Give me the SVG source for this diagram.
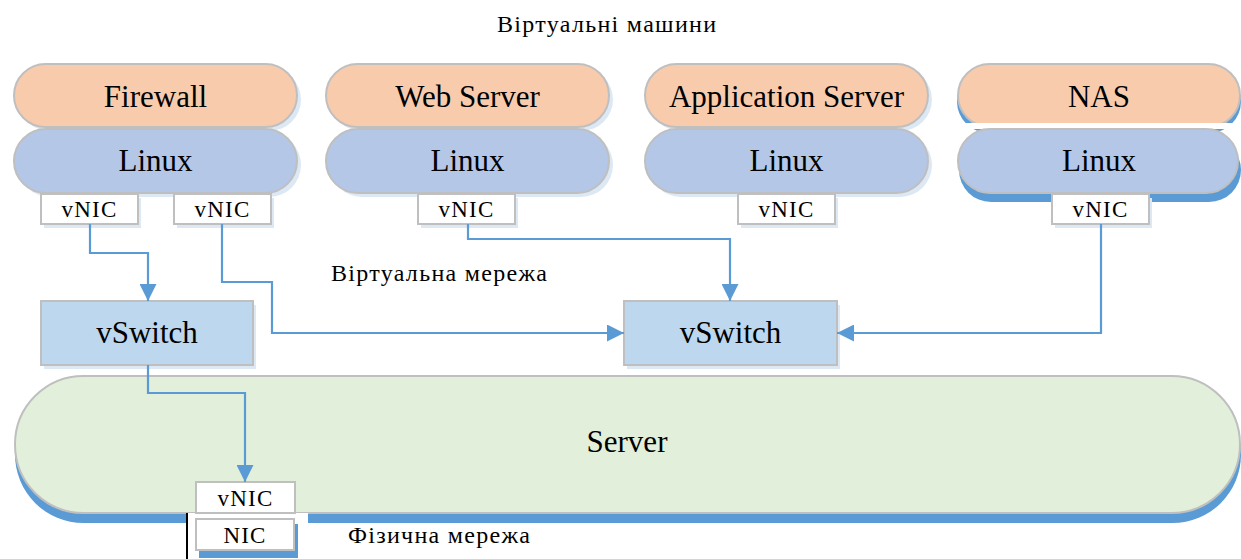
<svg xmlns="http://www.w3.org/2000/svg" width="1241" height="559" viewBox="0 0 1241 559">
  <style>
    .t { font-family: "Liberation Serif", Tinos, "Times New Roman", "Noto Serif", "DejaVu Serif", serif; fill: #000; }
    .big { font-size: 31px; text-anchor: middle; }
    .nic { font-size: 23px; text-anchor: middle; letter-spacing: 1.2px; }
    .lbl { font-size: 24px; }
    .edge { stroke: #bfbfbf; stroke-width: 2; }
    .app { fill: #f8cbad; }
    .os { fill: #b4c7e7; }
    .sw { fill: #bdd7ee; }
    .srv { fill: #e2efda; }
    .box { fill: #ffffff; }
    .halo { fill: #dde8f5; }
    .shadow { fill: #5b9bd5; }
    .wire { fill: none; stroke: #5b9bd5; stroke-width: 2.2; marker-end: url(#head); }
  </style>
  <defs>
    <marker id="head" viewBox="0 0 10 10" refX="10" refY="5" markerWidth="17" markerHeight="17" markerUnits="userSpaceOnUse" orient="auto">
      <path d="M0,0 L10,5 L0,10 z" fill="#5b9bd5"/>
    </marker>
  </defs>

  <rect width="1241" height="559" fill="#ffffff"/>

  <text class="t lbl" x="497" y="32" font-size="25" textLength="219" lengthAdjust="spacing">Віртуальні машини</text>

  <g id="vm-firewall">
    <rect class="halo" x="18" y="68" width="283" height="63" rx="31.5"/>
    <rect class="app edge" x="14" y="64" width="283" height="63" rx="31.5"/>
    <text class="t big" x="155.5" y="107">Firewall</text>
    <rect class="halo" x="18" y="133" width="283" height="64" rx="32"/>
    <rect class="os edge" x="14" y="129" width="283" height="64" rx="32"/>
    <text class="t big" x="155.5" y="171">Linux</text>
    <rect class="halo" x="44" y="198" width="97" height="30"/>
    <rect class="box edge" x="41" y="194" width="97" height="30"/>
    <text class="t nic" x="89.5" y="217">vNIC</text>
    <rect class="halo" x="177" y="198" width="97" height="30"/>
    <rect class="box edge" x="174" y="194" width="97" height="30"/>
    <text class="t nic" x="222.5" y="217">vNIC</text>
  </g>

  <g id="vm-web">
    <rect class="halo" x="330" y="68" width="283" height="63" rx="31.5"/>
    <rect class="app edge" x="326" y="64" width="283" height="63" rx="31.5"/>
    <text class="t big" x="467.5" y="107">Web Server</text>
    <rect class="halo" x="330" y="133" width="283" height="64" rx="32"/>
    <rect class="os edge" x="326" y="129" width="283" height="64" rx="32"/>
    <text class="t big" x="467.5" y="171">Linux</text>
    <rect class="halo" x="421" y="198" width="97" height="30"/>
    <rect class="box edge" x="418" y="194" width="97" height="30"/>
    <text class="t nic" x="466.5" y="217">vNIC</text>
  </g>

  <g id="vm-app">
    <rect class="halo" x="649" y="68" width="283" height="63" rx="31.5"/>
    <rect class="app edge" x="645" y="64" width="283" height="63" rx="31.5"/>
    <text class="t big" x="786.5" y="107">Application Server</text>
    <rect class="halo" x="649" y="133" width="283" height="64" rx="32"/>
    <rect class="os edge" x="645" y="129" width="283" height="64" rx="32"/>
    <text class="t big" x="786.5" y="171">Linux</text>
    <rect class="halo" x="741" y="198" width="97" height="30"/>
    <rect class="box edge" x="738" y="194" width="97" height="30"/>
    <text class="t nic" x="786.5" y="217">vNIC</text>
  </g>

  <g id="vm-nas">
    <rect class="shadow" x="957" y="70" width="284" height="63" rx="31.5"/>
    <rect class="app edge" x="958" y="64" width="282" height="63" rx="31.5"/>
    <rect fill="#ffffff" x="950" y="123" width="291" height="6"/>
    <rect class="shadow" x="959" y="138" width="282" height="64" rx="32"/>
    <rect class="os edge" x="958" y="129" width="280" height="64" rx="32"/>
    <text class="t big" x="1099" y="171">Linux</text>
    <text class="t big" x="1099" y="107">NAS</text>
    <rect class="halo" x="1055" y="198" width="97" height="30"/>
    <rect class="box edge" x="1052" y="194" width="97" height="30"/>
    <text class="t nic" x="1100.5" y="217">vNIC</text>
  </g>

  <text class="t lbl" x="331" y="281" textLength="216" lengthAdjust="spacing">Віртуальна мережа</text>

  <g id="vswitch-left">
    <rect class="halo" x="44" y="305" width="212" height="64"/>
    <rect class="sw edge" x="41" y="301" width="212" height="64"/>
    <text class="t big" x="147" y="343">vSwitch</text>
  </g>

  <g id="vswitch-right">
    <rect class="halo" x="627" y="305" width="213" height="64"/>
    <rect class="sw edge" x="624" y="301" width="213" height="64"/>
    <text class="t big" x="730.5" y="343">vSwitch</text>
  </g>

  <g id="server">
    <rect class="shadow" x="15" y="386" width="1226" height="137" rx="68.5"/>
    <rect class="srv edge" x="15" y="376" width="1225" height="137" rx="68.5"/>
    <text class="t big" x="627" y="452">Server</text>
    <rect fill="#ffffff" x="187" y="513" width="121" height="46"/>
    <line x1="187" y1="513" x2="187" y2="559" stroke="#000" stroke-width="2"/>
    <rect class="box edge" x="196" y="482" width="99" height="31"/>
    <text class="t nic" x="245.5" y="506">vNIC</text>
  </g>

  <g id="nic">
    <rect class="shadow" x="199" y="524" width="99" height="34"/>
    <rect class="box edge" x="196" y="519" width="98" height="31"/>
    <text class="t nic" x="245" y="543">NIC</text>
  </g>

  <text class="t lbl" x="348" y="543" textLength="182" lengthAdjust="spacing">Фізична мережа</text>

  <g id="connectors">
    <path class="wire" d="M90,224 V253 H148 V301"/>
    <path class="wire" d="M222,224 V282 H272 V333 H624"/>
    <path class="wire" d="M468,224 V239 H730 V301"/>
    <path class="wire" d="M1101,224 V333 H837"/>
    <path class="wire" d="M148,365 V393 H245 V482"/>
  </g>
</svg>
